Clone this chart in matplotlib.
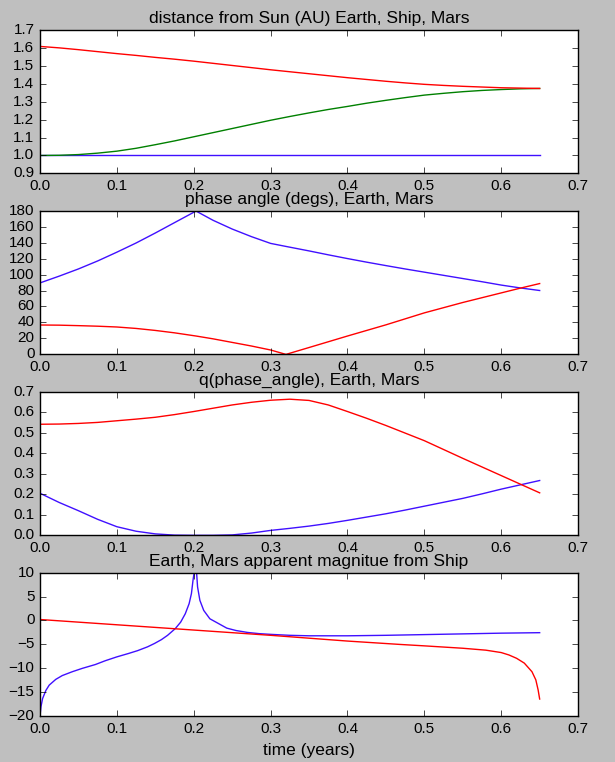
import matplotlib
matplotlib.use('Agg')
import matplotlib.pyplot as plt

# shared time grid (years) for distance and q panels
t_grid = [0.0, 0.025, 0.05, 0.075, 0.1, 0.125, 0.15, 0.175, 0.2, 0.225, 0.25, 0.275, 0.3, 0.325,
          0.35, 0.375, 0.4, 0.425, 0.45, 0.475, 0.5, 0.525, 0.55, 0.575, 0.6, 0.625, 0.65]

# distance from Sun (AU)
earth_dist = [1.0] * 27
ship_dist = [1.0, 1.001, 1.005, 1.013, 1.024, 1.04, 1.06, 1.081, 1.104, 1.127, 1.15, 1.173, 1.196,
             1.217, 1.237, 1.256, 1.273, 1.291, 1.307, 1.322, 1.336, 1.346, 1.355, 1.362, 1.367,
             1.371, 1.373]
mars_dist = [1.607, 1.599, 1.589, 1.578, 1.567, 1.557, 1.546, 1.536, 1.525, 1.513, 1.501, 1.489,
             1.477, 1.466, 1.455, 1.444, 1.433, 1.423, 1.413, 1.404, 1.396, 1.39, 1.385, 1.381,
             1.377, 1.375, 1.373]

# phase angle (degs)
t_phase = [0.0, 0.025, 0.05, 0.075, 0.1, 0.125, 0.15, 0.175, 0.203, 0.225, 0.25, 0.275, 0.3, 0.32,
           0.35, 0.375, 0.4, 0.425, 0.45, 0.475, 0.5, 0.525, 0.55, 0.575, 0.6, 0.625, 0.65]
earth_phase = [89.5, 98, 107, 117, 128, 139.5, 152, 165, 179.5, 168, 157, 147.5, 139, 135.2,
               129.6, 124.7, 120, 115.5, 111.2, 107, 103, 99, 95, 91, 86.8, 83.2, 80]
mars_phase = [36.8, 36.6, 36, 35.3, 34.3, 32.5, 30, 27, 23, 19.5, 15, 10.5, 5.5, 0,
              8.6, 15.8, 23, 30, 37, 44.5, 52, 58.5, 65, 71, 77, 83, 88.7]

# q(phase_angle)
earth_q = [0.205, 0.16, 0.12, 0.078, 0.042, 0.02, 0.007, 0.001, 0.0, 0.0, 0.002, 0.011, 0.024,
           0.034, 0.045, 0.058, 0.073, 0.089, 0.105, 0.123, 0.142, 0.161, 0.18, 0.202, 0.225,
           0.246, 0.267]
mars_q = [0.541, 0.542, 0.545, 0.55, 0.558, 0.566, 0.575, 0.588, 0.603, 0.619, 0.635, 0.648, 0.658,
          0.663, 0.657, 0.635, 0.603, 0.57, 0.535, 0.498, 0.461, 0.418, 0.375, 0.333, 0.291,
          0.249, 0.207]

# apparent magnitude from ship
t_mag_earth = [0.0, 0.0013, 0.0034, 0.0077, 0.012, 0.0205, 0.029, 0.042, 0.055, 0.072, 0.085,
               0.1, 0.115, 0.127, 0.14, 0.149, 0.158, 0.166, 0.176, 0.183, 0.189, 0.194, 0.197,
               0.199, 0.201, 0.2025, 0.2035, 0.205, 0.208, 0.213, 0.221, 0.234, 0.243, 0.255,
               0.27, 0.285, 0.3, 0.325, 0.35, 0.4, 0.45, 0.5, 0.55, 0.6, 0.65]
earth_mag = [-20.0, -18.0, -16.3, -14.6, -13.5, -12.3, -11.5, -10.7, -10.0, -9.2, -8.4,
             -7.6, -6.9, -6.3, -5.5, -4.8, -4.0, -3.1, -1.7, -0.35, 1.4, 3.5, 5.6,
             8.3, 10.5, 14.0, 10.5, 7.0, 4.2, 2.1, 0.35, -0.8, -1.6, -2.1,
             -2.5, -2.75, -2.9, -3.1, -3.2, -3.2, -3.1, -2.95, -2.8, -2.65, -2.55]
t_mag_mars = [0.0, 0.1, 0.2, 0.3, 0.4, 0.468, 0.5, 0.55, 0.58, 0.6, 0.61, 0.62, 0.63, 0.64,
              0.645, 0.648, 0.65]
mars_mag = [0.2, -0.9, -2.0, -3.1, -4.3, -5.0, -5.3, -5.8, -6.2, -6.7, -7.2, -7.9, -8.9, -10.7,
            -12.4, -14.5, -16.4]

BLUE = '#4010ff'
GREEN = '#008000'
RED = '#ff0000'

plt.style.use('classic')
plt.rcParams['font.family'] = ['Liberation Sans', 'DejaVu Sans']
plt.rcParams['font.size'] = 11

fig, axes = plt.subplots(4, 1, figsize=(6.15, 7.62), dpi=100, facecolor='#bfbfbf')
fig.subplots_adjust(left=0.065, right=0.94, top=0.961, bottom=0.06, hspace=0.259)

ax = axes[0]
ax.plot(t_grid, earth_dist, color=BLUE)
ax.plot(t_grid, ship_dist, color=GREEN)
ax.plot(t_grid, mars_dist, color=RED)
ax.set_ylim(0.9, 1.7)
ax.set_title('distance from Sun (AU) Earth, Ship, Mars', fontsize=12.5)

ax = axes[1]
ax.plot(t_phase, earth_phase, color=BLUE)
ax.plot(t_phase, mars_phase, color=RED)
ax.set_ylim(0, 180)
ax.set_title('phase angle (degs), Earth, Mars', fontsize=12.5)

ax = axes[2]
ax.plot(t_grid, earth_q, color=BLUE)
ax.plot(t_grid, mars_q, color=RED)
ax.set_ylim(0, 0.7)
ax.set_title('q(phase_angle), Earth, Mars', fontsize=12.5)

ax = axes[3]
ax.plot(t_mag_earth, earth_mag, color=BLUE)
ax.plot(t_mag_mars, mars_mag, color=RED)
ax.set_ylim(-20, 10)
ax.set_title('Earth, Mars apparent magnitue from Ship', fontsize=12.5)
ax.set_xlabel('time (years)', fontsize=12.5)

for ax in axes:
    ax.set_xlim(0, 0.7)

fig.savefig('out.png', facecolor=fig.get_facecolor())
